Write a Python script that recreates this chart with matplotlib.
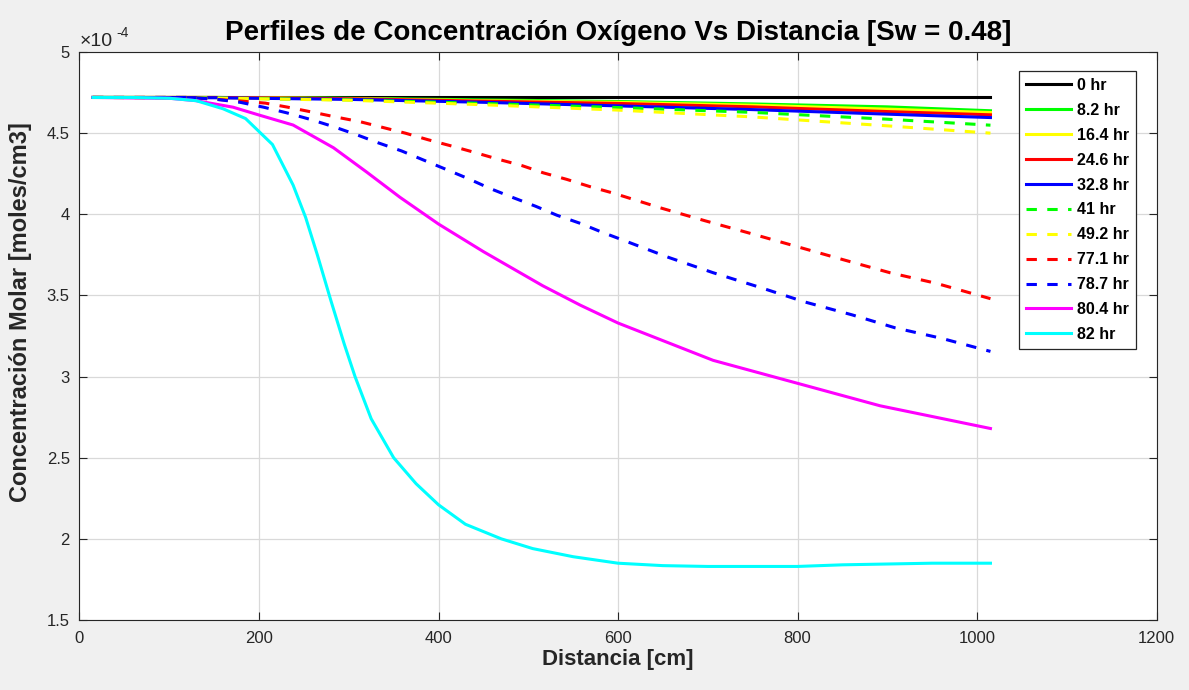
import matplotlib
matplotlib.use("Agg")
import matplotlib.pyplot as plt
from matplotlib.ticker import FuncFormatter

plt.rcParams['font.family'] = ['Liberation Sans', 'DejaVu Sans']

# Oxygen molar concentration profiles (units of 1e-4 moles/cm3) vs distance (cm)
x_flat = [15, 150, 300, 450, 600, 750, 900, 1015]
c_0hr = [4.72, 4.72, 4.72, 4.72, 4.72, 4.72, 4.72, 4.72]
c_8_2hr = [4.72, 4.72, 4.715, 4.705, 4.695, 4.68, 4.662, 4.638]
c_16_4hr = [4.72, 4.72, 4.713, 4.70, 4.69, 4.672, 4.648, 4.627]
c_24_6hr = [4.72, 4.72, 4.712, 4.697, 4.683, 4.662, 4.633, 4.613]
c_32_8hr = [4.72, 4.718, 4.708, 4.69, 4.668, 4.645, 4.617, 4.596]
c_41hr = [4.72, 4.717, 4.705, 4.683, 4.658, 4.628, 4.586, 4.549]
c_49_2hr = [4.72, 4.716, 4.703, 4.675, 4.642, 4.60, 4.545, 4.50]

x_77_1hr = [15, 120, 175, 207, 232, 259, 285, 313, 338, 363, 388, 415, 441,
            466, 493, 517, 543, 569, 595, 647, 697, 749, 800, 851, 903, 955, 1015]
c_77_1hr = [4.72, 4.72, 4.70, 4.685, 4.66, 4.63, 4.60, 4.57, 4.535, 4.50, 4.46,
            4.42, 4.38, 4.34, 4.30, 4.255, 4.215, 4.17, 4.13, 4.04, 3.96, 3.88,
            3.80, 3.72, 3.64, 3.574, 3.48]

x_78_7hr = [15, 120, 150, 179, 205, 231, 257, 283, 309, 333, 359, 383, 407, 433,
            457, 482, 508, 532, 558, 582, 606, 656, 706, 758, 808, 861, 909, 961, 1015]
c_78_7hr = [4.72, 4.72, 4.71, 4.69, 4.66, 4.625, 4.585, 4.54, 4.49, 4.44, 4.39,
            4.335, 4.28, 4.22, 4.16, 4.105, 4.05, 3.994, 3.944, 3.89, 3.84, 3.735,
            3.64, 3.55, 3.46, 3.38, 3.30, 3.235, 3.155]

x_80_4hr = [15, 100, 130, 171, 201, 238, 283, 320, 357, 400, 450, 516, 558, 600,
            706, 801, 892, 1015]
c_80_4hr = [4.72, 4.715, 4.70, 4.66, 4.61, 4.55, 4.41, 4.26, 4.105, 3.94, 3.77,
            3.56, 3.44, 3.33, 3.10, 2.957, 2.82, 2.68]

x_82hr = [15, 60, 100, 130, 160, 185, 200, 215, 238, 252, 265, 280, 295, 307,
          325, 350, 375, 400, 430, 470, 505, 550, 600, 650, 700, 750, 800, 850,
          900, 950, 1015]
c_82hr = [4.72, 4.72, 4.715, 4.70, 4.65, 4.59, 4.51, 4.43, 4.18, 3.98, 3.75,
          3.47, 3.2, 3.0, 2.74, 2.5, 2.34, 2.21, 2.09, 2.0, 1.94, 1.89, 1.85,
          1.835, 1.83, 1.83, 1.83, 1.84, 1.845, 1.85, 1.85]

labels = ['0 hr', '8.2 hr', '16.4 hr', '24.6 hr', '32.8 hr', '41 hr',
          '49.2 hr', '77.1 hr', '78.7 hr', '80.4 hr', '82 hr']

x_ticks = [0, 200, 400, 600, 800, 1000, 1200]
y_ticks = [1.5, 2, 2.5, 3, 3.5, 4, 4.5, 5]

series = [
    (x_flat, c_0hr, '#000000', '-'),
    (x_flat, c_8_2hr, '#00FF00', '-'),
    (x_flat, c_16_4hr, '#FFFF00', '-'),
    (x_flat, c_24_6hr, '#FF0000', '-'),
    (x_flat, c_32_8hr, '#0000FF', '-'),
    (x_flat, c_41hr, '#00FF00', '--'),
    (x_flat, c_49_2hr, '#FFFF00', '--'),
    (x_77_1hr, c_77_1hr, '#FF0000', '--'),
    (x_78_7hr, c_78_7hr, '#0000FF', '--'),
    (x_80_4hr, c_80_4hr, '#FF00FF', '-'),
    (x_82hr, c_82hr, '#00FFFF', '-'),
]

dark = '#262626'
fig = plt.figure(figsize=(11.89, 6.90), dpi=100, facecolor='#F0F0F0')
ax = fig.add_axes([79.5 / 1189, 1 - 620 / 690, 1077 / 1189, 568 / 690])
ax.set_facecolor('white')

for (xs, ys, col, ls), lab in zip(series, labels):
    line, = ax.plot(xs, ys, color=col, linestyle=ls, linewidth=2.2, label=lab)
    if ls == '--':
        line.set_dashes((3.4, 3.4))

ax.set_xlim(0, 1200)
ax.set_ylim(1.5, 5)
ax.set_xticks(x_ticks)
ax.set_yticks(y_ticks)
ax.yaxis.set_major_formatter(FuncFormatter(lambda v, p: f'{v:g}'))
ax.grid(True, color='#D9D9D9', linewidth=0.9)
ax.set_axisbelow(True)
ax.tick_params(direction='in', length=6, width=0.8, colors=dark,
               labelsize=12, top=True, right=True, pad=8)
ax.tick_params(axis='y', pad=7)
for sp in ax.spines.values():
    sp.set_color(dark)
    sp.set_linewidth(0.8)

ax.set_title('Perfiles de Concentración Oxígeno Vs Distancia [Sw = 0.48]',
             fontsize=20, fontweight='bold', color='black', pad=9)
ax.set_xlabel('Distancia [cm]', fontsize=16, fontweight='bold', color=dark,
              labelpad=2)
ax.set_ylabel('Concentración Molar [moles/cm3]', fontsize=17,
              fontweight='bold', color=dark)
ax.yaxis.set_label_coords(-0.044, 0.542)

ax.text(0.0, 1.003, '×10', transform=ax.transAxes, fontsize=14, color=dark,
        ha='left', va='bottom')
ax.text(0.0345, 1.021, '-4', transform=ax.transAxes, fontsize=10, color=dark,
        ha='left', va='bottom')

leg = ax.legend(loc='upper right', bbox_to_anchor=(0.981, 0.967),
                borderaxespad=0, fancybox=False, framealpha=1,
                edgecolor=dark, prop={'weight': 'bold', 'size': 11.5},
                handlelength=2.8, handletextpad=0.35, labelspacing=0.62,
                borderpad=0.45)
leg.get_frame().set_linewidth(0.9)

fig.savefig('out.png', dpi=100, facecolor=fig.get_facecolor())
